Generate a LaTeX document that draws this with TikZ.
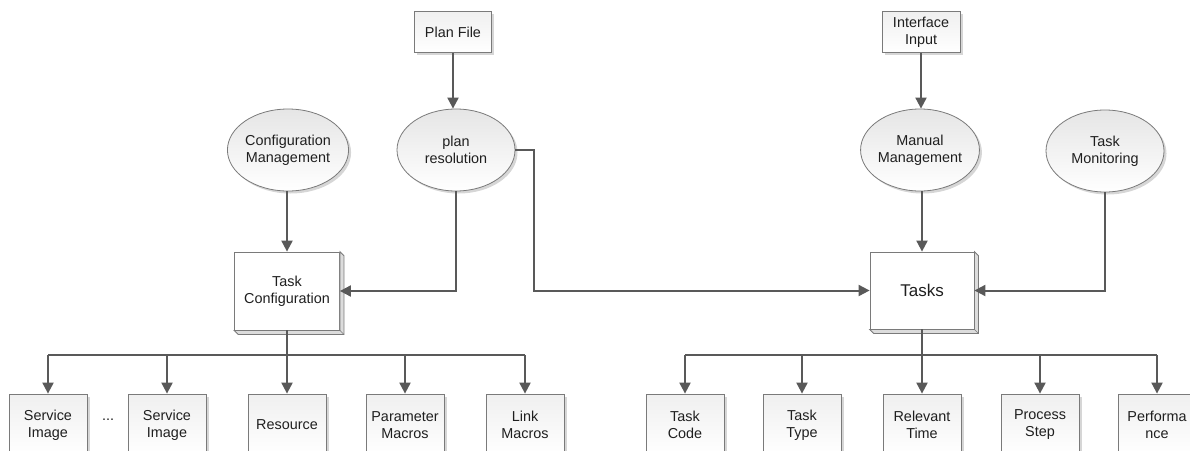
\documentclass[tikz,border=0pt]{standalone}
\usepackage{fontspec}
\setmainfont{Liberation Sans}
\usetikzlibrary{arrows.meta,shadows,shapes.geometric,calc}
\definecolor{linegray}{HTML}{595959}
\definecolor{edgegray}{HTML}{7A7A7A}
\definecolor{textgray}{HTML}{1F1F1F}
\definecolor{facegray}{HTML}{DCDCDC}
\tikzset{
  lbl/.style={font=\fontsize{14.4}{17}\selectfont, text=textgray, align=center, inner sep=0pt},
  softshadow/.style={drop shadow={shadow xshift=2.5pt, shadow yshift=-2.5pt, opacity=0.16, fill=black}},
  flatbox/.style={lbl, rectangle, draw=edgegray, line width=0.8pt,
    top color=black!6, bottom color=white, softshadow},
  oval/.style={lbl, ellipse, draw=edgegray, line width=0.8pt,
    minimum width=118pt, minimum height=82pt, top color=black!10, bottom color=white, softshadow},
  cubebox/.style={lbl, rectangle, draw=edgegray, fill=white, line width=0.8pt},
  leafbox/.style={flatbox, minimum width=78pt, minimum height=62pt},
  conn/.style={draw=linegray, line width=2pt},
  arr/.style={conn, -{Triangle[length=11pt,width=11pt]}},
}
% extruded face along the bottom and right side of a box
\newcommand{\cubeface}[1]{%
  \filldraw[fill=facegray, draw=edgegray, line width=0.8pt]
    (#1.south west) -- ([shift={(4,4)}]#1.south west) -- ([shift={(4,4)}]#1.south east)
    -- ([shift={(4,4)}]#1.north east) -- (#1.north east) -- (#1.south east) -- cycle;
  \draw[edgegray, line width=0.6pt] (#1.south east) -- ([shift={(4,4)}]#1.south east);
}
\begin{document}
\begin{tikzpicture}[x=1pt, y=-1pt]
  \useasboundingbox (0,0) rectangle (1190,450);

  % inputs
  \node[flatbox, minimum width=77pt, minimum height=41pt] (planfile) at (453,32) {Plan File};
  \node[flatbox, minimum width=78pt, minimum height=41pt] (iface) at (921,32) {Interface\\Input};

  % processes
  \node[oval] (confmgmt) at (288,150) {Configuration\\Management};
  \node[oval] (planres)  at (456,150) {plan\\resolution};
  \node[oval] (manual)   at (920,150) {Manual\\Management};
  \node[oval] (monitor)  at (1105,151) {Task\\Monitoring};

  % central blocks
  \node[cubebox, minimum width=105pt, minimum height=78pt] (taskconf) at (287,291) {Task\\Configuration};
  \cubeface{taskconf}
  \node[cubebox, minimum width=104pt, minimum height=77pt, font=\fontsize{17}{20}\selectfont] (tasks) at (922,290.5) {Tasks};
  \cubeface{tasks}

  % leaves of Task Configuration
  \node[leafbox] (svcA)  at (48,425)  {Service\\Image};
  \node[lbl] (dots) at (108,420) {...};
  \node[leafbox] (svcB)  at (167,425) {Service\\Image};
  \node[leafbox] (res)   at (287,425) {Resource};
  \node[leafbox] (param) at (405,425) {Parameter\\Macros};
  \node[leafbox] (link)  at (525,425) {Link\\Macros};

  % leaves of Tasks
  \node[leafbox] (tcode) at (685,425)  {Task\\Code};
  \node[leafbox] (ttype) at (802,425)  {Task\\Type};
  \node[leafbox] (rtime) at (922,425)  {Relevant\\Time};
  \node[leafbox] (pstep) at (1040,425) {Process\\Step};
  \node[leafbox] (perf)  at (1157,425) {Performa\\nce};

  % upper connectors
  \draw[arr] (planfile.south) -- (planfile.south |- planres.north);
  \draw[arr] (iface.south) -- (iface.south |- manual.north);
  \draw[arr] (confmgmt.south -| taskconf.north) -- (taskconf.north);
  \draw[arr] (planres.south) |- (taskconf.east);
  \draw[arr] (planres.east) -- ++(19,0) |- (tasks.west);
  \draw[arr] (manual.south -| tasks.north) -- (tasks.north);
  \draw[arr] (monitor.south) |- (tasks.east);

  % bus under Task Configuration
  \coordinate (lbus) at (287,355);
  \draw[conn] (svcA.north |- lbus) -- (link.north |- lbus);
  \draw[arr] (taskconf.south) -- (res.north);
  \foreach \n in {svcA, svcB, param, link}
    \draw[arr] (\n.north |- lbus) -- (\n.north);

  % bus under Tasks
  \coordinate (rbus) at (922,355);
  \draw[conn] (tcode.north |- rbus) -- (perf.north |- rbus);
  \draw[arr] (tasks.south) -- (rtime.north);
  \foreach \n in {tcode, ttype, pstep, perf}
    \draw[arr] (\n.north |- rbus) -- (\n.north);
\end{tikzpicture}
\end{document}
